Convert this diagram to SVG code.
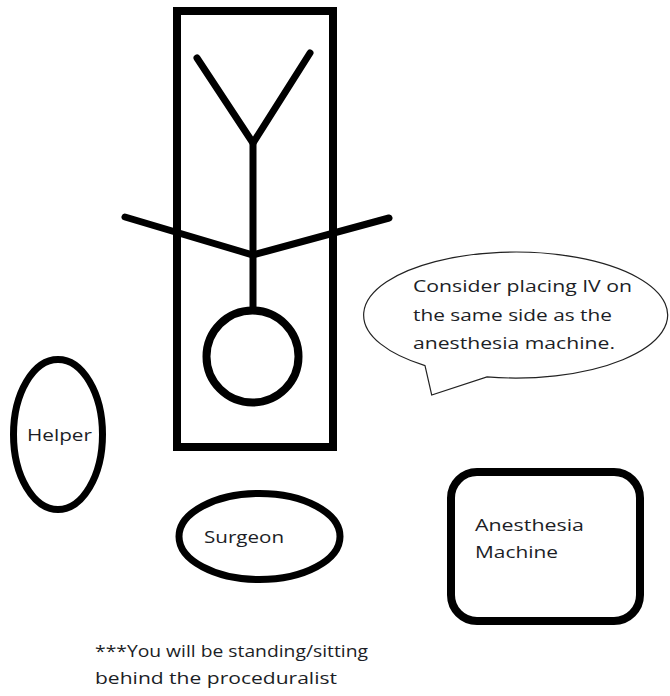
<svg xmlns="http://www.w3.org/2000/svg" width="670" height="696" viewBox="0 0 670 696">
  <style>
    .thick { fill: none; stroke: #000; stroke-width: 8; }
    .limb { fill: none; stroke: #000; stroke-width: 7; stroke-linecap: round; stroke-linejoin: miter; }
    .label { font-family: "Open Sans", "Noto Sans", "Liberation Sans", sans-serif; font-size: 17px; fill: #1c1e26; }
    .bubble { fill: #fff; stroke: #222; stroke-width: 1.2; stroke-linejoin: miter; }
  </style>
  <rect width="670" height="696" fill="#fff"/>

  <!-- operating table with patient figure -->
  <g id="table">
    <rect class="thick" x="177" y="11" width="156" height="436"/>
  </g>
  <g id="patient">
    <polyline class="limb" points="197,58 253,143 310,53"/>
    <line class="limb" x1="253" y1="143" x2="253" y2="310"/>
    <polyline class="limb" points="125,217 253,255 389,218"/>
    <circle class="thick" cx="252.5" cy="356.5" r="46"/>
  </g>

  <!-- staff positions -->
  <g id="helper">
    <ellipse cx="58" cy="434.5" rx="44.5" ry="75" fill="none" stroke="#000" stroke-width="7"/>
    <text class="label" x="27" y="441" textLength="65" lengthAdjust="spacingAndGlyphs">Helper</text>
  </g>
  <g id="surgeon">
    <ellipse cx="259.5" cy="536.5" rx="80.5" ry="43" fill="none" stroke="#000" stroke-width="7"/>
    <text class="label" x="204" y="543" textLength="80" lengthAdjust="spacingAndGlyphs">Surgeon</text>
  </g>
  <g id="anesthesia-machine">
    <rect class="thick" x="451" y="472" width="189" height="149" rx="26" ry="26"/>
    <text class="label" x="475" y="531" textLength="109" lengthAdjust="spacingAndGlyphs">Anesthesia</text>
    <text class="label" x="475" y="558" textLength="83" lengthAdjust="spacingAndGlyphs">Machine</text>
  </g>

  <!-- speech bubble note -->
  <g id="note">
    <path class="bubble" d="M425,365.6 L431.7,395 L487,376.9 A152,63 0 1 0 425,365.6 Z"/>
    <text class="label" x="413" y="292" textLength="219" lengthAdjust="spacingAndGlyphs">Consider placing IV on</text>
    <text class="label" x="413" y="320.5" textLength="199" lengthAdjust="spacingAndGlyphs">the same side as the</text>
    <text class="label" x="413" y="349" textLength="202" lengthAdjust="spacingAndGlyphs">anesthesia machine.</text>
  </g>

  <!-- footnote -->
  <g id="footnote">
    <text class="label" x="95" y="657" textLength="273" lengthAdjust="spacingAndGlyphs">***You will be standing/sitting</text>
    <text class="label" x="95" y="684" textLength="242" lengthAdjust="spacingAndGlyphs">behind the proceduralist</text>
  </g>
</svg>
